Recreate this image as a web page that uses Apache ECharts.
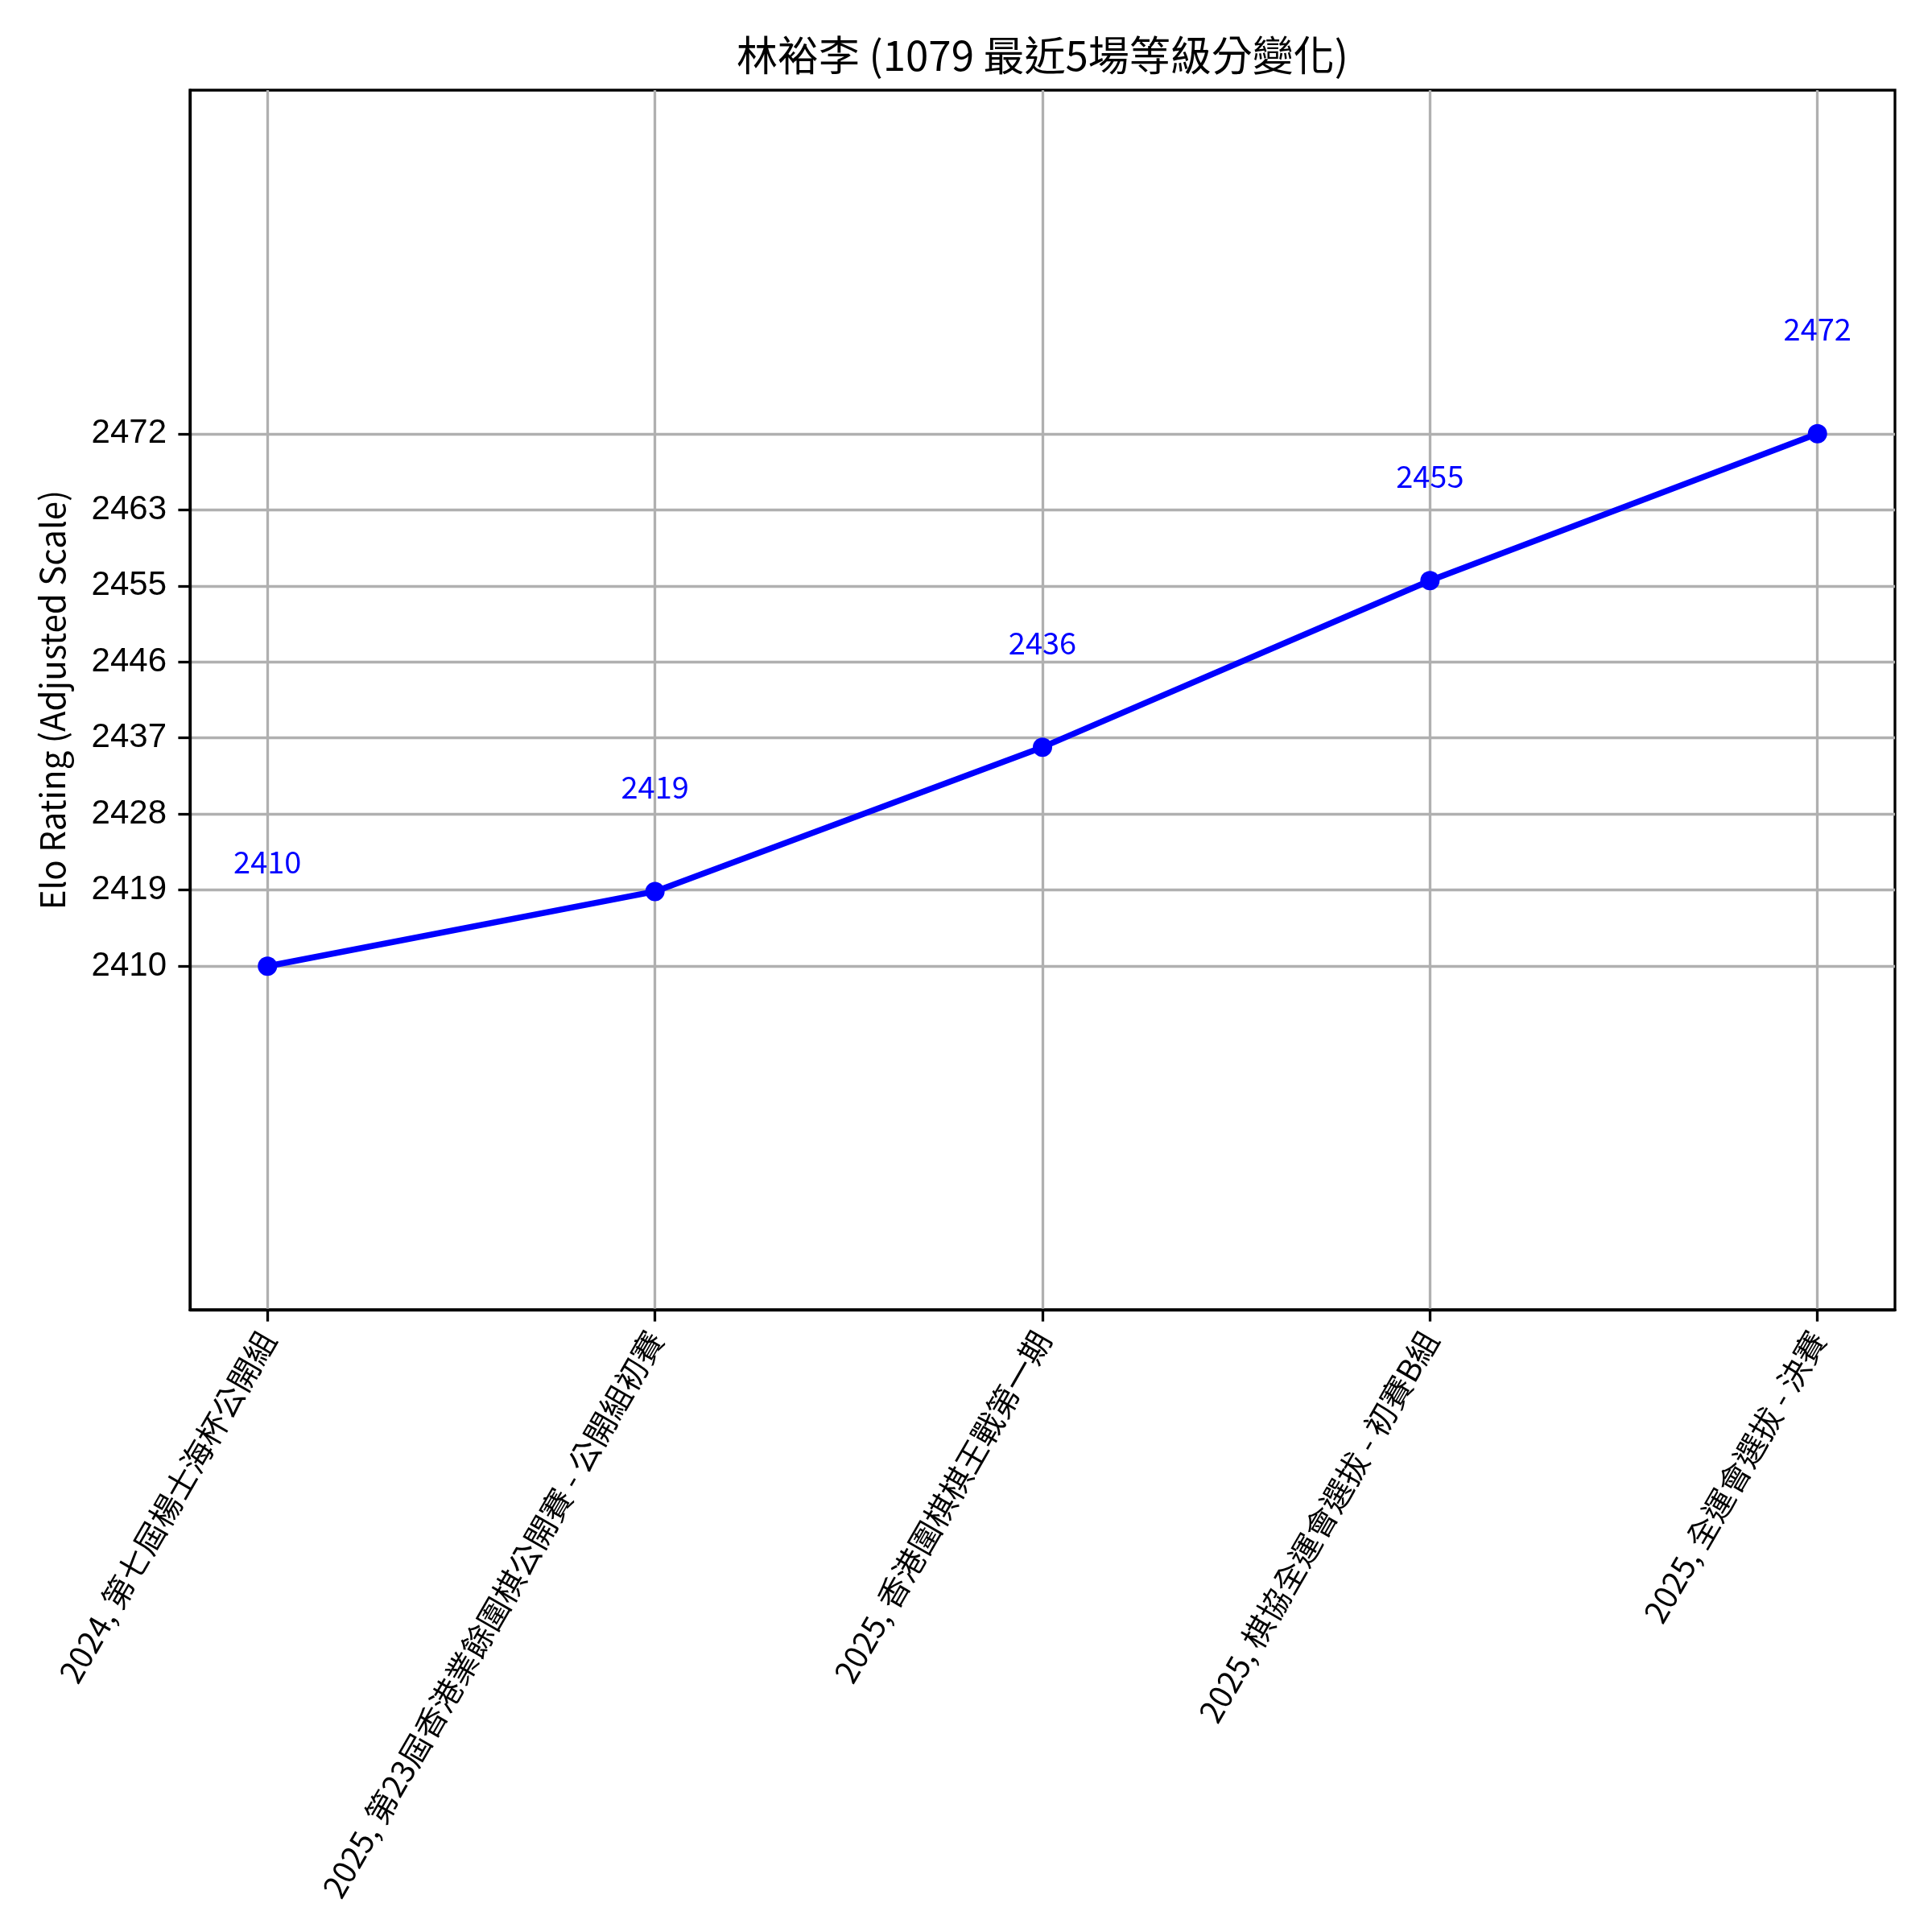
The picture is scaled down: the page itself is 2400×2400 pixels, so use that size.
<!DOCTYPE html>
<html>
<head>
<meta charset="utf-8">
<script src="https://cdn.jsdelivr.net/npm/echarts@6/dist/echarts.min.js"></script>
<style>
html,body{margin:0;padding:0;background:#fff;}
#chart{width:2400px;height:2400px;}
</style>
</head>
<body>
<div id="chart"></div>
<script>
// ---- data ----
const titleText = '林裕李 (1079 最近5場等級分變化)';
const yAxisName = 'Elo Rating (Adjusted Scale)';
const categories = [
  '2024, 第七屆楊士海杯公開組',
  '2025, 第23屆香港業餘圍棋公開賽 - 公開組初賽',
  '2025, 香港圍棋棋王戰第一期',
  '2025, 棋協全運會選拔 - 初賽B組',
  '2025, 全運會選拔 - 決賽'
];
const ratings = [2410, 2418.7, 2435.5, 2454.9, 2472];
const yTickLabels = ['2410', '2419', '2428', '2437', '2446', '2455', '2463', '2472'];
const yMin = 2370, yMax = 2512;

// tick positions: evenly spaced between first and last label
const yFirst = Number(yTickLabels[0]);
const yLast = Number(yTickLabels[yTickLabels.length - 1]);
const yTicks = yTickLabels.map((_, i) => yFirst + i * (yLast - yFirst) / (yTickLabels.length - 1));
const xTicks = categories.map((_, i) => i);

const CJK = '"Noto Sans CJK TC", "Noto Sans CJK SC", sans-serif';
const chart = echarts.init(document.getElementById('chart'), null, {renderer: 'canvas'});
chart.setOption({
  animation: false,
  backgroundColor: '#ffffff',
  title: {
    text: titleText,
    left: 1295,
    textAlign: 'center',
    top: 43,
    padding: 0,
    textStyle: {fontFamily: CJK, fontSize: 51, fontWeight: 'normal', color: '#000'}
  },
  grid: {
    left: 236, right: 46, top: 112, bottom: 773,
    show: true, borderColor: '#000', borderWidth: 3.3,
    outerBoundsMode: 'none', containLabel: false
  },
  xAxis: {
    type: 'value', min: -0.2, max: 4.2,
    axisLine: {show: true, onZero: false, lineStyle: {color: '#000', width: 3.3}},
    axisTick: {show: true, customValues: xTicks, length: 14.6, lineStyle: {color: '#000', width: 3.3}},
    axisLabel: {
      customValues: xTicks, rotate: 60, margin: 30,
      fontFamily: CJK, fontSize: 39, color: '#000',
      formatter: v => categories[Math.round(v)]
    },
    splitLine: {show: true, lineStyle: {color: '#b0b0b0', width: 3.3}}
  },
  yAxis: {
    type: 'value', min: yMin, max: yMax,
    name: yAxisName, nameLocation: 'middle', nameGap: 150, nameRotate: 90,
    nameTextStyle: {fontFamily: CJK, fontSize: 42, color: '#000'},
    axisLine: {show: true, onZero: false, lineStyle: {color: '#000', width: 3.3}},
    axisTick: {show: true, customValues: yTicks, length: 14.6, lineStyle: {color: '#000', width: 3.3}},
    axisLabel: {
      customValues: yTicks, margin: 29,
      fontFamily: '"Liberation Sans", Arial, sans-serif', fontSize: 42, color: '#000',
      formatter: v => {
        let best = 0;
        yTicks.forEach((t, i) => { if (Math.abs(t - v) < Math.abs(yTicks[best] - v)) best = i; });
        return yTickLabels[best];
      }
    },
    splitLine: {show: true, lineStyle: {color: '#b0b0b0', width: 3.3}}
  },
  series: [{
    type: 'line',
    data: ratings.map((v, i) => [i, v]),
    symbol: 'circle', symbolSize: 24,
    lineStyle: {color: '#0000ff', width: 7.5},
    itemStyle: {color: '#0000ff'},
    label: {
      show: true, position: 'top', distance: 99,
      fontFamily: CJK, fontSize: 38, color: '#0000ff',
      formatter: p => String(Math.round(p.value[1]))
    },
    z: 5
  }]
});
</script>
</body>
</html>
